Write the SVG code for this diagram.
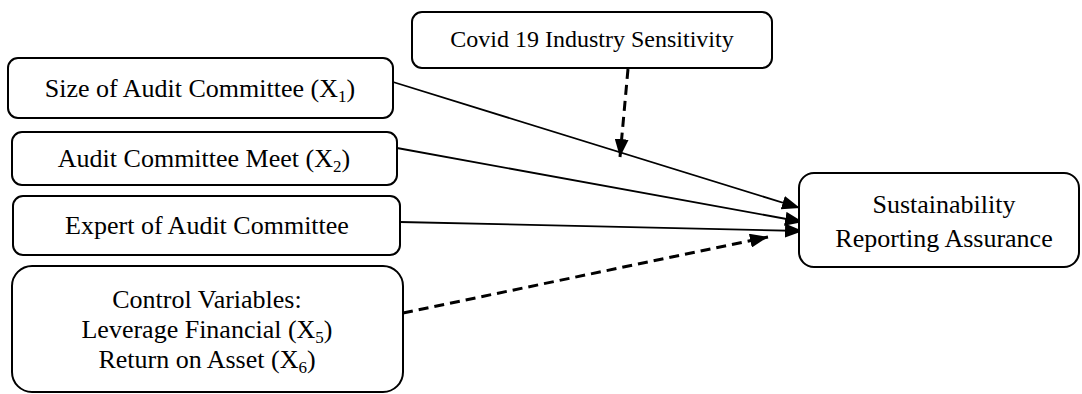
<svg xmlns="http://www.w3.org/2000/svg" width="1082" height="394" viewBox="0 0 1082 394">
<style>
.box{fill:#fff;stroke:#000;stroke-width:2}
.t{font-family:"Liberation Serif","Times New Roman",serif;font-size:26px;fill:#000;text-anchor:middle}
.sm{font-size:24px}
.sub{font-size:17px}
.ln{stroke:#000;stroke-width:1.8;fill:none}
.dl{stroke:#000;stroke-width:3;fill:none;stroke-dasharray:10 6}
</style>
<defs>
<marker id="ah" markerUnits="userSpaceOnUse" viewBox="0 0 18 14" markerWidth="18" markerHeight="14" refX="18" refY="7" orient="auto">
<path d="M0,0 L18,7 L0,14 Z" fill="#000"/>
</marker>
</defs>
<rect width="1082" height="394" fill="#fff"/>
<g id="connectors">
<line class="ln" x1="393" y1="82" x2="800" y2="208" marker-end="url(#ah)"/>
<line class="ln" x1="397" y1="148" x2="803" y2="222" marker-end="url(#ah)"/>
<line class="ln" x1="400" y1="222" x2="803" y2="231" marker-end="url(#ah)"/>
<line class="dl" x1="403" y1="313" x2="768" y2="237" marker-end="url(#ah)"/>
<line class="dl" x1="628" y1="69" x2="620" y2="157" marker-end="url(#ah)"/>
</g>
<g id="covid">
<rect class="box" x="412" y="12" width="360" height="56" rx="10"/>
<text class="t sm" x="592" y="47">Covid 19 Industry Sensitivity</text>
</g>
<g id="size">
<rect class="box" x="8" y="58" width="385" height="60" rx="10"/>
<text class="t" x="200" y="97">Size of Audit Committee (X<tspan class="sub" dy="5">1</tspan><tspan dy="-5">)</tspan></text>
</g>
<g id="meet">
<rect class="box" x="12" y="132" width="385" height="53" rx="10"/>
<text class="t" x="204" y="167">Audit Committee Meet (X<tspan class="sub" dy="5">2</tspan><tspan dy="-5">)</tspan></text>
</g>
<g id="expert">
<rect class="box" x="13" y="196" width="387" height="59" rx="10"/>
<text class="t" x="207" y="234">Expert of Audit Committee</text>
</g>
<g id="control">
<rect class="box" x="12" y="266" width="391" height="126" rx="20"/>
<text class="t" x="207" y="308">Control Variables:</text>
<text class="t" x="207" y="338">Leverage Financial (X<tspan class="sub" dy="5">5</tspan><tspan dy="-5">)</tspan></text>
<text class="t" x="207" y="368">Return on Asset (X<tspan class="sub" dy="5">6</tspan><tspan dy="-5">)</tspan></text>
</g>
<g id="sra">
<rect class="box" x="799" y="173" width="280" height="94" rx="15"/>
<text class="t" x="944" y="213">Sustainability</text>
<text class="t" x="944" y="247">Reporting Assurance</text>
</g>
</svg>
